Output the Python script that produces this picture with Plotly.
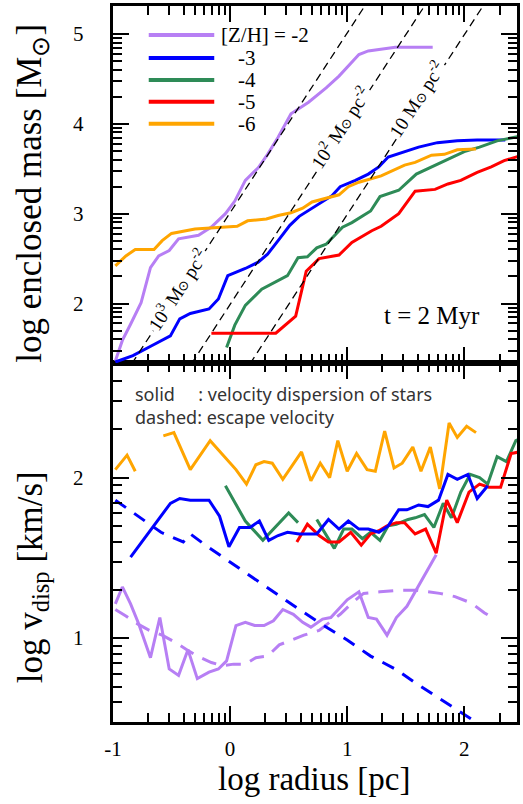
import math
import plotly.graph_objects as go

# ---------------- data (log radius [pc] vs log quantities) ----------------
# Top panel: log enclosed mass
m2_x = [-0.98, -0.92, -0.85, -0.76, -0.68, -0.61, -0.52, -0.44, -0.27, -0.16, -0.04, 0.04, 0.13, 0.24, 0.32, 0.41, 0.52, 0.67, 0.82, 0.93, 1.10, 1.18, 1.41, 1.73]
m2_y = [1.36, 1.59, 1.77, 2.01, 2.40, 2.53, 2.59, 2.72, 2.76, 2.85, 3.00, 3.14, 3.37, 3.51, 3.66, 3.85, 4.11, 4.24, 4.40, 4.53, 4.77, 4.81, 4.85, 4.85]

m3_x = [-0.98, -0.83, -0.67, -0.51, -0.43, -0.34, -0.18, -0.10, -0.02, 0.13, 0.24, 0.32, 0.41, 0.51, 0.59, 0.73, 0.87, 0.94, 1.07, 1.18, 1.27, 1.35, 1.46, 1.61, 1.77, 1.94, 2.11, 2.35]
m3_y = [1.35, 1.42, 1.53, 1.64, 1.83, 1.89, 1.94, 2.05, 2.31, 2.39, 2.46, 2.55, 2.70, 2.87, 2.97, 3.09, 3.20, 3.30, 3.37, 3.44, 3.52, 3.63, 3.68, 3.74, 3.79, 3.81, 3.82, 3.82]

m4_x = [-0.03, 0.04, 0.13, 0.27, 0.49, 0.58, 0.66, 0.74, 0.82, 0.96, 1.04, 1.20, 1.28, 1.44, 1.59, 1.72, 1.86, 2.00, 2.13, 2.28, 2.47]
m4_y = [1.51, 1.76, 1.98, 2.16, 2.31, 2.51, 2.52, 2.62, 2.66, 2.85, 2.90, 3.03, 3.19, 3.26, 3.44, 3.52, 3.61, 3.69, 3.74, 3.81, 3.86]

m5_x = [-0.16, 0.39, 0.56, 0.65, 0.76, 0.93, 1.04, 1.21, 1.29, 1.44, 1.58, 1.75, 1.86, 1.97, 2.11, 2.23, 2.34, 2.47]
m5_y = [1.67, 1.67, 1.86, 2.36, 2.50, 2.54, 2.68, 2.81, 2.86, 3.00, 3.25, 3.27, 3.33, 3.37, 3.46, 3.52, 3.59, 3.64]

m6_x = [-0.98, -0.89, -0.81, -0.65, -0.58, -0.50, -0.30, -0.07, 0.06, 0.15, 0.31, 0.41, 0.52, 0.62, 0.70, 0.93, 1.01, 1.10, 1.29, 1.49, 1.58, 1.72, 1.83, 1.94, 2.10]
m6_y = [2.42, 2.53, 2.60, 2.60, 2.70, 2.78, 2.83, 2.85, 2.86, 2.92, 2.94, 2.98, 3.01, 3.06, 3.13, 3.21, 3.30, 3.35, 3.42, 3.54, 3.57, 3.65, 3.66, 3.71, 3.72]

# constant surface density guide lines (end points)
SUN = "<span style=\"font-size:70%\">\u2299</span>"
sd_labels = ["10<sup>3</sup> M" + SUN + " pc<sup>-2</sup>",
             "10<sup>2</sup> M" + SUN + " pc<sup>-2</sup>",
             "10 M" + SUN + " pc<sup>-2</sup>"]
sd_x = [[-0.84, 1.15], [-0.33, 1.66], [0.17, 2.16]]
sd_y = [[1.33, 5.31], [1.33, 5.31], [1.33, 5.31]]
sd_label_x = [-0.45, 0.94, 1.59]
sd_label_y = [2.16, 3.96, 4.27]

# Bottom panel: log velocity dispersion (solid) and escape velocity (dashed)
v2_x = [-0.98, -0.92, -0.85, -0.78, -0.68, -0.60, -0.52, -0.44, -0.36, -0.28, -0.18, -0.10, -0.03, 0.05, 0.13, 0.21, 0.29, 0.37, 0.45, 0.54, 0.62, 0.69, 0.79, 0.86, 1.00, 1.10, 1.18, 1.25, 1.34, 1.42, 1.51, 1.59, 1.76]
v2_y = [1.215, 1.32, 1.215, 1.09, 0.88, 1.13, 0.81, 0.77, 0.93, 0.75, 0.79, 0.81, 0.86, 1.08, 1.10, 1.08, 1.08, 1.11, 1.18, 1.15, 1.10, 1.07, 1.12, 1.13, 1.24, 1.29, 1.13, 1.12, 1.02, 1.13, 1.20, 1.30, 1.52]

v3_x = [-0.85, -0.51, -0.43, -0.34, -0.18, -0.09, -0.01, 0.08, 0.17, 0.25, 0.33, 0.41, 0.49, 0.59, 0.69, 0.74, 0.84, 0.93, 1.01, 1.10, 1.18, 1.27, 1.35, 1.44, 1.51, 1.61, 1.69, 1.78, 1.86, 1.94, 2.03, 2.11, 2.20]
v3_y = [1.505, 1.84, 1.87, 1.86, 1.86, 1.76, 1.57, 1.69, 1.69, 1.73, 1.61, 1.64, 1.66, 1.65, 1.65, 1.65, 1.74, 1.68, 1.73, 1.68, 1.68, 1.66, 1.70, 1.80, 1.80, 1.83, 1.82, 1.86, 2.02, 1.99, 2.02, 1.87, 1.95]

v4_x = [-0.04, 0.13, 0.28, 0.50, 0.58, None, 0.74, 0.89, 0.97, 1.04, 1.13, 1.20, 1.28, 1.35, 1.42, 1.52, 1.58, 1.66, 1.74, 1.82, 1.89, 1.97, 2.05, 2.13, 2.20, 2.28, 2.36, 2.44, 2.47]
v4_y = [1.95, 1.73, 1.61, 1.78, 1.72, None, 1.74, 1.56, 1.68, 1.68, 1.62, 1.66, 1.61, 1.70, 1.71, 1.74, 1.75, 1.77, 1.69, 1.84, 1.75, 1.91, 2.02, 2.00, 1.96, 2.13, 2.10, 2.23, 2.24]

v5_x = [0.57, 0.66, 0.76, 0.84, 0.93, 1.03, 1.12, 1.20, 1.27, 1.34, 1.42, 1.49, 1.58, 1.67, 1.76, 1.85, 1.94, 2.04, 2.13, 2.21, 2.31, 2.40, 2.47]
v5_y = [1.60, 1.71, 1.64, 1.60, 1.60, 1.66, 1.58, 1.65, 1.67, 1.70, 1.72, 1.72, 1.65, 1.68, 1.53, 1.86, 1.72, 1.91, 1.96, 1.94, 1.94, 2.15, 2.16]

v6_x = [-0.98, -0.88, -0.81, None, -0.57, -0.48, -0.34, -0.17, 0.05, 0.14, 0.22, 0.29, 0.36, 0.45, 0.61, 0.69, 0.77, 0.85, 0.92, 1.00, 1.08, 1.17, 1.24, 1.32, 1.40, 1.47, 1.56, 1.63, 1.71, 1.79, 1.87, 1.94, 2.02, 2.10]
v6_y = [2.05, 2.14, 2.04, None, 2.26, 2.28, 2.05, 2.23, 2.05, 1.96, 2.08, 2.10, 2.09, 1.99, 2.16, 1.98, 2.09, 2.00, 2.23, 2.04, 2.15, 2.05, 2.04, 2.29, 2.06, 2.09, 2.19, 2.04, 2.19, 1.93, 2.34, 2.25, 2.32, 2.28]

esc2_x = [-0.98, -0.89, -0.79, -0.69, -0.58, -0.48, -0.37, -0.28, -0.16, -0.06, 0.03, 0.13, 0.22, 0.32, 0.42, 0.52, 0.63, 0.76, 0.94, 1.04, 1.14, 1.28, 1.44, 1.59, 1.79, 1.92, 2.06, 2.17, 2.26]
esc2_y = [1.18, 1.14, 1.09, 1.05, 1.02, 0.98, 0.93, 0.89, 0.85, 0.83, 0.84, 0.84, 0.88, 0.89, 0.96, 0.99, 1.02, 1.05, 1.15, 1.22, 1.28, 1.29, 1.30, 1.30, 1.28, 1.26, 1.22, 1.16, 1.12]

esc3_x = [-0.98, -0.79, -0.59, -0.40, -0.34, -0.21, -0.01, 0.18, 0.39, 0.59, 0.80, 1.00, 1.20, 1.41, 1.61, 1.80, 2.00, 2.12]
esc3_y = [1.86, 1.76, 1.66, 1.60, 1.65, 1.58, 1.48, 1.38, 1.28, 1.18, 1.08, 0.99, 0.89, 0.81, 0.71, 0.62, 0.53, 0.47]

legend_names = ["[Z/H] = -2", "-3", "-4", "-5", "-6"]
colors = ["#b77ff4", "#0000ff", "#2e8b57", "#ff0000", "#ffa500"]

x_ticks = [-1, 0, 1, 2]
y_top_ticks = [2, 3, 4, 5]
y_bot_ticks = [1, 2]

X_RANGE = [-1.0, 2.45]
Y_TOP = [1.333, 5.31]
Y_BOT = [0.48, 2.71]

fig = go.Figure()

# top panel curves
for xs, ys, c in zip([m2_x, m3_x, m4_x, m5_x, m6_x], [m2_y, m3_y, m4_y, m5_y, m6_y], colors):
    fig.add_trace(go.Scatter(x=xs, y=ys, mode="lines", line=dict(color=c, width=3),
                             xaxis="x2", yaxis="y2", showlegend=False, hoverinfo="skip"))
for xs, ys in zip(sd_x, sd_y):
    fig.add_trace(go.Scatter(x=xs, y=ys, mode="lines", line=dict(color="black", width=1.3, dash="8px,5px"),
                             xaxis="x2", yaxis="y2", showlegend=False, hoverinfo="skip"))

# bottom panel curves
fig.add_trace(go.Scatter(x=esc2_x, y=esc2_y, mode="lines", line=dict(color=colors[0], width=3, dash="15px,10px"),
                         showlegend=False, hoverinfo="skip"))
fig.add_trace(go.Scatter(x=esc3_x, y=esc3_y, mode="lines", line=dict(color=colors[1], width=3, dash="13px,10px"),
                         showlegend=False, hoverinfo="skip"))
for xs, ys, c in zip([v6_x, v2_x, v4_x, v5_x, v3_x], [v6_y, v2_y, v4_y, v5_y, v3_y],
                     [colors[4], colors[0], colors[2], colors[3], colors[1]]):
    fig.add_trace(go.Scatter(x=xs, y=ys, mode="lines", line=dict(color=c, width=3),
                             showlegend=False, hoverinfo="skip"))

SERIF = "Liberation Serif, Times New Roman, serif"


def minor_vals(lo, hi):
    out = []
    for n in range(-2, 7):
        for k in range(2, 10):
            v = n + math.log10(k)
            if lo < v < hi:
                out.append(v)
    return out


axis_common = dict(showline=True, linecolor="black", linewidth=3, mirror="allticks",
                   ticks="inside", ticklen=16, tickwidth=2, tickcolor="black",
                   showgrid=False, zeroline=False,
                   tickfont=dict(family=SERIF, size=21, color="black"))


def minor(lo, hi):
    return dict(tickvals=minor_vals(lo, hi), ticklen=9, tickwidth=2, ticks="inside", tickcolor="black")


fig.update_layout(
    width=523, height=804,
    margin=dict(l=113, r=3, t=5, b=82),
    paper_bgcolor="white", plot_bgcolor="white",
    xaxis=dict(range=X_RANGE, domain=[0, 1], anchor="y", tickvals=x_ticks,
               ticktext=[str(v) for v in x_ticks], ticklabelstandoff=6,
               minor=minor(*X_RANGE), **axis_common),
    yaxis=dict(range=Y_BOT, domain=[0, 0.5007], anchor="x", tickvals=y_bot_ticks,
               showticklabels=False, minor=minor(*Y_BOT), **axis_common),
    xaxis2=dict(range=X_RANGE, domain=[0, 1], anchor="y2", matches="x", tickvals=x_ticks,
                showticklabels=False, minor=minor(*X_RANGE), **axis_common),
    yaxis2=dict(range=Y_TOP, domain=[0.5007, 1], anchor="x2", tickvals=y_top_ticks,
                showticklabels=False, minor=minor(*Y_TOP), **axis_common),
)

ann = []
# y tick labels (placed farther from the axis, as in the original)
for v in y_top_ticks:
    ann.append(dict(x=0, y=v, xref="paper", yref="y2", xshift=-27, text=str(v), showarrow=False,
                    xanchor="right", yanchor="middle", font=dict(family=SERIF, size=21, color="black")))
for v in y_bot_ticks:
    ann.append(dict(x=0, y=v, xref="paper", yref="y", xshift=-27, text=str(v), showarrow=False,
                    xanchor="right", yanchor="middle", font=dict(family=SERIF, size=21, color="black")))

# guide line labels
for t, lx, ly in zip(sd_labels, sd_label_x, sd_label_y):
    ann.append(dict(x=lx, y=ly, xref="x2", yref="y2", text=t, showarrow=False, textangle=-56.7,
                    font=dict(family=SERIF, size=19, color="black"), bgcolor="white"))
ann.append(dict(x=1.72, y=1.87, xref="x2", yref="y2", text="t = 2 Myr", showarrow=False,
                font=dict(family=SERIF, size=25, color="black")))


def px_to_paper_x(px):
    return (px - 113) / 407.0


def py_to_paper_y(py):
    return (722 - py) / 717.0


# custom legend
shapes = []
leg_y = [34, 57, 79, 101, 123]
for i, (name, c, yy) in enumerate(zip(legend_names, colors, leg_y)):
    shapes.append(dict(type="line", xref="paper", yref="paper",
                       x0=px_to_paper_x(149), x1=px_to_paper_x(215),
                       y0=py_to_paper_y(yy), y1=py_to_paper_y(yy),
                       line=dict(color=c, width=4)))
    ann.append(dict(x=px_to_paper_x(220 if i == 0 else 237), y=py_to_paper_y(yy), xref="paper", yref="paper",
                    text=name, showarrow=False, xanchor="left", yanchor="middle",
                    font=dict(family=SERIF, size=21, color="black")))

# notes in bottom panel (one two-line text block)
SANS = "Noto Sans, Open Sans, sans-serif"
NB = "\u00a0"
ann.append(dict(x=px_to_paper_x(133), y=py_to_paper_y(380), xref="paper", yref="paper",
                text="solid" + NB * 5 + ": velocity dispersion of stars<br>dashed: escape velocity",
                align="left", showarrow=False, xanchor="left", yanchor="top",
                font=dict(family=SANS, size=18, color="#333333")))

# axis titles
ann.append(dict(x=0.4975, y=0, xref="paper", yref="paper", yshift=-57, text="log radius [pc]",
                showarrow=False, xanchor="center", yanchor="middle",
                font=dict(family=SERIF, size=33, color="black")))
ann.append(dict(x=0, y=py_to_paper_y(193), xref="paper", yref="paper", xshift=-81,
                text="log enclosed mass [M<sub>\u2299</sub>]", textangle=-90,
                showarrow=False, xanchor="center", yanchor="middle",
                font=dict(family=SERIF, size=35, color="black")))
ann.append(dict(x=0, y=py_to_paper_y(577), xref="paper", yref="paper", xshift=-81,
                text="log v<sub>disp</sub> [km/s]", textangle=-90,
                showarrow=False, xanchor="center", yanchor="middle",
                font=dict(family=SERIF, size=35, color="black")))

fig.update_layout(annotations=ann, shapes=shapes)
fig.write_html("out.html")
